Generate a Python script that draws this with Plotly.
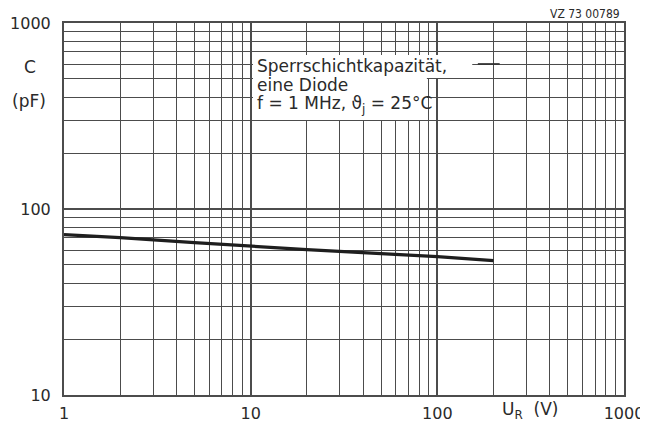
import plotly.graph_objects as go

# Data
voltage_v = [1, 2, 5, 10, 20, 50, 100, 200]
capacitance_pf = [72.8, 70.2, 66.0, 63.0, 60.5, 57.5, 55.5, 52.8]

x_major = [1, 10, 100, 1000]
x_major_labels = ["1", "10", "100", "1000"]
y_major = [10, 100, 1000]
y_major_labels = ["10", "100", "1000"]
x_minor = [m * d for d in (1, 10, 100) for m in range(2, 10)]
y_minor = [m * d for d in (10, 100) for m in range(2, 10)]

note_lines = ["Sperrschichtkapazität,", "eine Diode", "f = 1 MHz, ϑ<sub>j</sub> = 25°C"]

FONT = "DejaVu Sans"
INK = "#2a2a2a"
GRID = "#4c4c4c"

fig = go.Figure()
fig.add_trace(go.Scatter(
    x=voltage_v, y=capacitance_pf, mode="lines",
    line=dict(color="#1e1e1e", width=3.2), showlegend=False, hoverinfo="skip"))

axis_common = dict(
    type="log", showline=True, linecolor=GRID, linewidth=2, mirror=True,
    showgrid=True, gridcolor=GRID, gridwidth=2.2, zeroline=False, automargin=False,
    ticks="", tickfont=dict(family=FONT, size=16, color=INK),
)
fig.update_xaxes(
    **axis_common, range=[0, 3], tickvals=x_major, ticktext=x_major_labels,
    ticklabelstandoff=3,
    minor=dict(tickvals=x_minor, showgrid=True, gridcolor=GRID, gridwidth=1.3, ticks=""),
)
fig.update_yaxes(
    **axis_common, range=[1, 3], tickvals=y_major, ticktext=y_major_labels,
    ticklabelstandoff=8,
    minor=dict(tickvals=y_minor, showgrid=True, gridcolor=GRID, gridwidth=1.3, ticks=""),
)

# White background behind the note (covers the grid; the curve lies below it)
fig.add_shape(type="rect", xref="paper", yref="paper", x0=0.3375, x1=0.729, y0=0.852, y1=0.914,
              fillcolor="white", line=dict(width=0), layer="above")
fig.add_shape(type="rect", xref="paper", yref="paper", x0=0.3375, x1=0.648, y0=0.739, y1=0.914,
              fillcolor="white", line=dict(width=0), layer="above")
fig.add_shape(type="line", xref="paper", yref="paper", x0=0.739, x1=0.778, y0=0.890, y1=0.890,
              line=dict(color=INK, width=1.5), layer="above")

for i, line in enumerate(note_lines):
    fig.add_annotation(
        xref="paper", yref="paper", x=0.341, y=0.885 - i * 0.0525,
        xanchor="left", yanchor="middle", align="left", showarrow=False,
        text=line, font=dict(family=FONT, size=17, color=INK))

fig.add_annotation(xref="paper", yref="paper", x=-0.047, y=0.883, xanchor="right", yanchor="middle",
                   showarrow=False, text="C", font=dict(family=FONT, size=17, color=INK))
fig.add_annotation(xref="paper", yref="paper", x=-0.028, y=0.79, xanchor="right", yanchor="middle",
                   showarrow=False, text="(pF)", font=dict(family=FONT, size=17, color=INK))
fig.add_annotation(xref="paper", yref="paper", x=0.832, y=-0.043, xanchor="center", yanchor="middle",
                   showarrow=False, text="U<sub>R</sub>  (V)", font=dict(family=FONT, size=17, color=INK))
fig.add_annotation(xref="paper", yref="paper", x=0.997, y=1.0, xanchor="right", yanchor="bottom",
                   showarrow=False, text="VZ 73 00789",
                   font=dict(family="DejaVu Sans Condensed, DejaVu Sans", size=12, color=INK))

# Page body has an 8 px margin: size the figure so the plot area lands where the reference has it
fig.update_layout(
    width=640, height=420,
    margin=dict(l=56, r=24, t=15, b=33),
    paper_bgcolor="white", plot_bgcolor="white",
    showlegend=False,
)

fig.write_html("out.html")
